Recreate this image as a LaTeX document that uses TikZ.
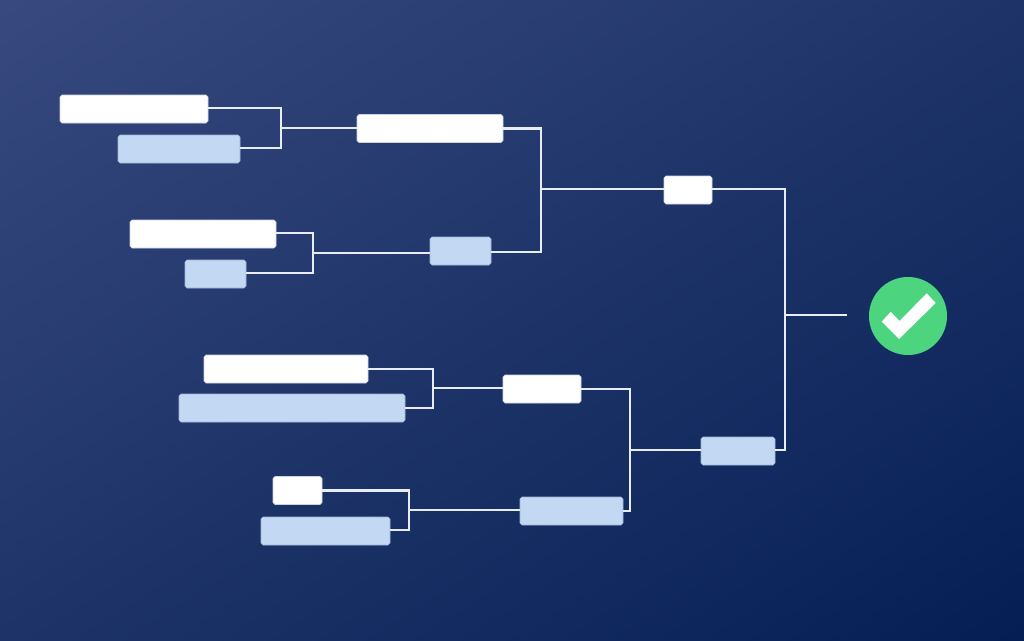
\documentclass[tikz,border=0pt]{standalone}
\usepackage{tikz}
\usetikzlibrary{calc}
\definecolor{bgstart}{RGB}{60,77,130}
\definecolor{bgend}{RGB}{0,27,80}
\definecolor{boxblue}{RGB}{195,216,243}
\definecolor{wirecol}{RGB}{232,236,245}
\definecolor{okgreen}{RGB}{77,212,126}
\pgfdeclareverticalshading{bgfade}{100bp}{color(0bp)=(bgend); color(9bp)=(bgend); color(91bp)=(bgstart); color(100bp)=(bgstart)}
\tikzset{
  bx/.style={rectangle,rounded corners=1.4pt,inner sep=0pt,minimum height=0.7cm,line width=0.4pt},
  whitebox/.style={bx,fill=white,draw=white!75!bgstart},
  bluebox/.style={bx,fill=boxblue,draw=boxblue!75!bgstart},
  wire/.style={draw=wirecol,line width=1.5pt}
}
\begin{document}
\begin{tikzpicture}[x=0.025cm,y=-0.025cm]
\useasboundingbox (0,0) rectangle (1024,640);
% sfondo
\shade[shading=bgfade,shading angle=32] (0,0) rectangle (1024,640);
% collegamenti sotto le caselle
\coordinate (jone) at (281,128);
\coordinate (jtwo) at (313,253);
\coordinate (jthree) at (433,388);
\coordinate (jfour) at (409,510);
\coordinate (jfive) at (541,189);
\coordinate (jsix) at (630,450);
\coordinate (jseven) at (785,315);
\coordinate (wireend) at (847,315);
% caselle
\foreach \name/\cx/\cy/\boxw in {
  aone/134/109/148, athree/203/234/146, afive/286/369/164, aseven/297.5/490.5/49,
  bone/430/128.5/146, bthree/542/389/78, cone/688/190/48
}{
  \node[whitebox,minimum width=\boxw*0.025cm] (\name) at (\cx,\cy) {};
}
\foreach \name/\cx/\cy/\boxw in {
  atwo/179/149/122, afour/215.5/274/61, asix/292/408/226, aeight/325.5/531/129,
  btwo/460.5/251/61, bfour/571.5/511/103, ctwo/738/451/74
}{
  \node[bluebox,minimum width=\boxw*0.025cm] (\name) at (\cx,\cy) {};
}
\draw[wire] (aone.east |- 0,108) -| (jone) |- (atwo.east |- 0,148);
\draw[wire] (jone) -- (bone.west |- jone);
\draw[wire] (athree.east |- 0,233) -| (jtwo) |- (afour.east |- 0,273);
\draw[wire] (jtwo) -- (btwo.west |- jtwo);
\draw[wire] (afive.east) -| (jthree) |- (asix.east);
\draw[wire] (jthree) -- (bthree.west |- jthree);
\draw[wire] (aseven.east) -| (jfour) |- (aeight.east |- 0,530);
\draw[wire] (jfour) -- (bfour.west |- jfour);
\draw[wire] (bone.east) -| (jfive) |- (btwo.east |- 0,252);
\draw[wire] (jfive) -- (cone.west |- jfive);
\draw[wire] (bthree.east) -| (jsix) |- (bfour.east);
\draw[wire] (jsix) -- (ctwo.west |- jsix);
\draw[wire] (cone.east |- 0,189) -| (jseven) |- (ctwo.east |- 0,450);
\draw[wire] (jseven) -- (wireend);
% spunta
\node[circle,fill=okgreen,minimum size=1.95cm,inner sep=0pt] (okmark) at (908,316) {};
\fill[white] (881.7,321.7) -- (899,339) -- (935.7,303) -- (926.7,293.3) -- (899.5,321) -- (890.7,311.7) -- cycle;
\end{tikzpicture}
\end{document}
